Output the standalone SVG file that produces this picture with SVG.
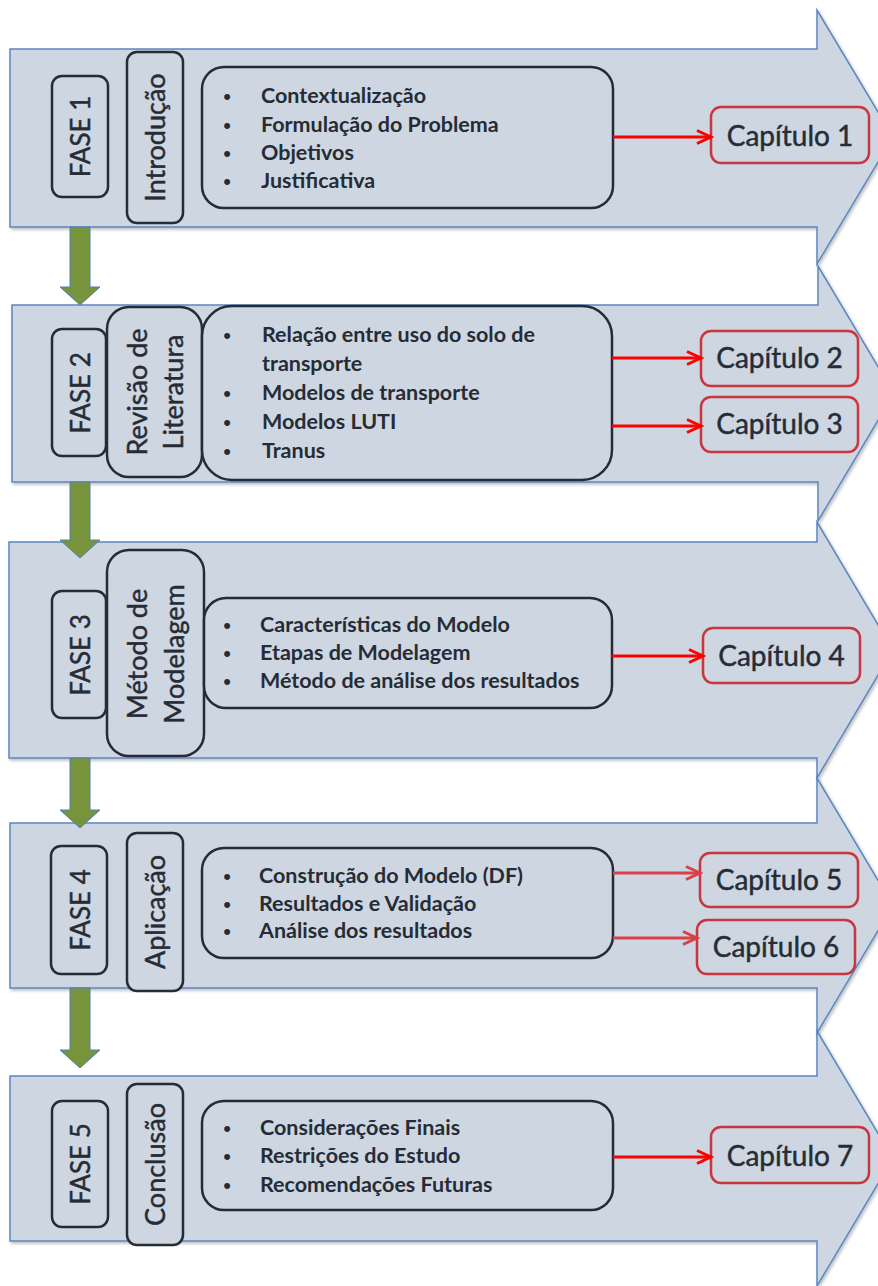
<svg xmlns="http://www.w3.org/2000/svg" width="878" height="1286" viewBox="0 0 878 1286">
<defs>
<style>
.body{fill:#CDD6E1;stroke:#5B87C2;stroke-width:1.5}
.box{fill:#CDD6E1;stroke:#262C36;stroke-width:2.5}
.chap{fill:#CDD6E1;stroke:#C8373F;stroke-width:2.5}
.green{fill:#77933C;stroke:#4F81BD;stroke-width:1}
.lbl{font-family:Lato,"Liberation Sans",sans-serif;font-size:26px;fill:#262C36;stroke:#262C36;stroke-width:0.45;text-anchor:middle}
.big{font-size:27px}
.blt{font-family:Lato,"Liberation Sans",sans-serif;font-weight:bold;font-size:21.5px;fill:#262C36}
.dot{font-family:"Liberation Sans",sans-serif;font-size:22px;fill:#262C36;text-anchor:middle}
.ch{font-family:Lato,"Liberation Sans",sans-serif;font-size:28px;fill:#262C36;stroke:#262C36;stroke-width:0.45;text-anchor:middle}
.red{stroke:#FF0000;stroke-width:3;fill:none}
.red2{stroke:#D8404A;stroke-width:3;fill:none}
</style>
<filter id="sh" x="-5%" y="-5%" width="115%" height="115%">
<feDropShadow dx="1.5" dy="2" stdDeviation="1.5" flood-color="#000" flood-opacity="0.25"/>
</filter>
<marker id="ah" markerUnits="userSpaceOnUse" markerWidth="18" markerHeight="16" refX="15" refY="8" orient="auto">
<path d="M1,1.5 L15,8 L1,14.5" fill="none" stroke="#FF0000" stroke-width="3"/>
</marker>
<marker id="ah2" markerUnits="userSpaceOnUse" markerWidth="18" markerHeight="16" refX="15" refY="8" orient="auto">
<path d="M1,1.5 L15,8 L1,14.5" fill="none" stroke="#D8404A" stroke-width="3"/>
</marker>
</defs>
<rect width="878" height="1286" fill="#FFFFFF"/>

<!-- Phase 1 -->
<g id="fase1">
<path class="body" filter="url(#sh)" d="M10,49 H817 V10 L893,137 L817,264 V227 H10 Z"/>
<rect class="box" x="52" y="76" width="56" height="121" rx="10"/>
<text class="lbl" transform="translate(90,136.5) rotate(-90)">FASE 1</text>
<rect class="box" x="127" y="52" width="56" height="171" rx="10"/>
<text class="lbl big" transform="translate(165,137.5) rotate(-90)">Introdução</text>
<rect class="box" x="202" y="67" width="411" height="141" rx="22"/>
<text class="dot" x="227" y="104">•</text><text class="blt" x="261" y="103">Contextualização</text>
<text class="dot" x="227" y="132.5">•</text><text class="blt" x="261" y="131.5">Formulação do Problema</text>
<text class="dot" x="227" y="161">•</text><text class="blt" x="261" y="160">Objetivos</text>
<text class="dot" x="227" y="189">•</text><text class="blt" x="261" y="188">Justificativa</text>
</g>
<g id="cap1">
<rect class="chap" x="711" y="107" width="158" height="56" rx="10"/>
<text class="ch" x="790" y="146">Capítulo 1</text>
</g>

<!-- Phase 2 -->
<g id="fase2">
<path class="body" filter="url(#sh)" d="M12,305 H818 V266 L894,393.5 L818,521 V482 H12 Z"/>
<rect class="box" x="52" y="329" width="54" height="127" rx="10"/>
<text class="lbl" transform="translate(90,393) rotate(-90)">FASE 2</text>
<rect class="box" x="107" y="307" width="95" height="170" rx="22"/>
<text class="lbl big" transform="translate(147,392) rotate(-90)">Revisão de</text>
<text class="lbl big" transform="translate(183,392) rotate(-90)">Literatura</text>
<rect class="box" x="202" y="306" width="410" height="174" rx="30"/>
<text class="dot" x="227" y="343">•</text><text class="blt" x="262" y="342">Relação entre uso do solo de</text>
<text class="blt" x="262" y="371">transporte</text>
<text class="dot" x="227" y="401">•</text><text class="blt" x="262" y="400">Modelos de transporte</text>
<text class="dot" x="227" y="430">•</text><text class="blt" x="262" y="429">Modelos LUTI</text>
<text class="dot" x="227" y="459">•</text><text class="blt" x="262" y="458">Tranus</text>
</g>
<g id="cap2">
<rect class="chap" x="701" y="331" width="157" height="55" rx="10"/>
<text class="ch" x="779.5" y="368">Capítulo 2</text>
</g>
<g id="cap3">
<rect class="chap" x="701" y="397" width="157" height="55" rx="10"/>
<text class="ch" x="779.5" y="434">Capítulo 3</text>
</g>

<!-- Phase 3 -->
<g id="fase3">
<path class="body" filter="url(#sh)" d="M9,542 H817 V522 L893,650 L817,778 V758 H9 Z"/>
<rect class="box" x="52" y="591" width="54" height="127" rx="10"/>
<text class="lbl" transform="translate(90,655) rotate(-90)">FASE 3</text>
<rect class="box" x="107" y="550" width="97" height="206" rx="22"/>
<text class="lbl big" transform="translate(147,654) rotate(-90)">Método de</text>
<text class="lbl big" transform="translate(184,654) rotate(-90)">Modelagem</text>
<rect class="box" x="204" y="598" width="408" height="110" rx="22"/>
<text class="dot" x="227" y="633">•</text><text class="blt" x="260" y="632">Características do Modelo</text>
<text class="dot" x="227" y="661">•</text><text class="blt" x="260" y="660">Etapas de Modelagem</text>
<text class="dot" x="227" y="689">•</text><text class="blt" x="260" y="688">Método de análise dos resultados</text>
</g>
<g id="cap4">
<rect class="chap" x="703" y="628" width="157" height="55" rx="10"/>
<text class="ch" x="781.5" y="666">Capítulo 4</text>
</g>

<!-- Phase 4 -->
<g id="fase4">
<path class="body" filter="url(#sh)" d="M10,823 H817 V778 L893,905.5 L817,1033 V988 H10 Z"/>
<rect class="box" x="51" y="846" width="56" height="128" rx="10"/>
<text class="lbl" transform="translate(90,910) rotate(-90)">FASE 4</text>
<rect class="box" x="127" y="833" width="56" height="158" rx="10"/>
<text class="lbl big" transform="translate(165,912) rotate(-90)">Aplicação</text>
<rect class="box" x="202" y="848" width="411" height="110" rx="22"/>
<text class="dot" x="227" y="884">•</text><text class="blt" x="259" y="883">Construção do Modelo (DF)</text>
<text class="dot" x="227" y="912">•</text><text class="blt" x="259" y="911">Resultados e Validação</text>
<text class="dot" x="227" y="939">•</text><text class="blt" x="259" y="938">Análise dos resultados</text>
</g>
<g id="cap5">
<rect class="chap" x="700" y="853" width="158" height="54" rx="10"/>
<text class="ch" x="779" y="890">Capítulo 5</text>
</g>
<g id="cap6">
<rect class="chap" x="697" y="920" width="158" height="54" rx="10"/>
<text class="ch" x="776" y="957">Capítulo 6</text>
</g>

<!-- Phase 5 -->
<g id="fase5">
<path class="body" filter="url(#sh)" d="M10,1076 H817 V1031 L893,1158.5 L817,1286 V1241 H10 Z"/>
<rect class="box" x="52" y="1101" width="56" height="126" rx="10"/>
<text class="lbl" transform="translate(90,1164) rotate(-90)">FASE 5</text>
<rect class="box" x="127" y="1084" width="56" height="161" rx="10"/>
<text class="lbl big" transform="translate(165,1164.5) rotate(-90)">Conclusão</text>
<rect class="box" x="202" y="1101" width="411" height="109" rx="22"/>
<text class="dot" x="227" y="1136">•</text><text class="blt" x="260" y="1135">Considerações Finais</text>
<text class="dot" x="227" y="1164">•</text><text class="blt" x="260" y="1163">Restrições do Estudo</text>
<text class="dot" x="227" y="1193">•</text><text class="blt" x="260" y="1192">Recomendações Futuras</text>
</g>
<g id="cap7">
<rect class="chap" x="711" y="1127" width="158" height="56" rx="10"/>
<text class="ch" x="790" y="1166">Capítulo 7</text>
</g>

<!-- Connectors -->
<g id="connectors">
<path class="green" d="M70,227 H90 V287 H100 L80,305 L60,287 H70 Z"/>
<path class="green" d="M70,482 H90 V540 H100 L80,558 L60,540 H70 Z"/>
<path class="green" d="M70,758 H90 V810 H100 L80,828 L60,810 H70 Z"/>
<path class="green" d="M70,988 H90 V1050 H100 L80,1068 L60,1050 H70 Z"/>
<line class="red" x1="613" y1="137" x2="711" y2="137" marker-end="url(#ah)"/>
<line class="red" x1="612" y1="358" x2="701" y2="358" marker-end="url(#ah)"/>
<line class="red" x1="612" y1="426" x2="701" y2="426" marker-end="url(#ah)"/>
<line class="red" x1="612" y1="656" x2="703" y2="656" marker-end="url(#ah)"/>
<line class="red2" x1="613" y1="873" x2="700" y2="873" marker-end="url(#ah2)"/>
<line class="red2" x1="613" y1="938" x2="697" y2="938" marker-end="url(#ah2)"/>
<line class="red" x1="613" y1="1157" x2="711" y2="1157" marker-end="url(#ah)"/>
</g>
</svg>
